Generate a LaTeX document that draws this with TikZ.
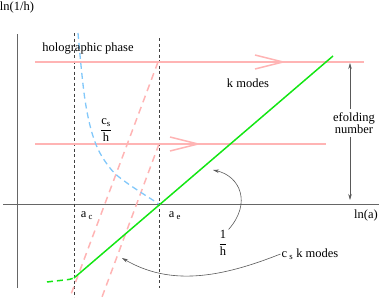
\documentclass[tikz,border=0pt]{standalone}
\usepackage{amsmath}
\usepackage{fontspec}
\setmainfont{Liberation Serif}
\usetikzlibrary{arrows.meta}

\definecolor{pinkline}{RGB}{255,180,180}
\definecolor{skyline}{RGB}{130,200,250}
\definecolor{greenline}{RGB}{20,230,20}

\tikzset{
  lbl/.style={font=\fontsize{12.5}{11}\selectfont, inner sep=1pt},
  axisline/.style={draw=black!60, line width=0.8pt},
  epoch/.style={draw=black!75, line width=0.6pt, dash pattern=on 3pt off 2.5pt},
  mode/.style={draw=pinkline, line width=1.5pt},
  horizon/.style={draw=pinkline, line width=1.5pt, dash pattern=on 7pt off 5pt},
  pointer/.style={draw=black!65, line width=0.6pt, -{Stealth[length=6pt,width=3.5pt]}}
}

\begin{document}
\begin{tikzpicture}[x=1pt,y=1pt]
  \useasboundingbox (0,0) rectangle (382,298);
  % Axes
  \draw[axisline] (17,10) -- (17,264);
  \draw[axisline] (3,94) -- (379,94);
  \node[lbl] (lnh) at (17,291) {ln(1/h)};
  \node[lbl] (lna) at (366,83) {ln(a)};
  % Epochs a_c and a_e
  \draw[epoch] (74,265) -- (74,1);
  \draw[epoch] (159,260) -- (159,10);
  \node[lbl] (ac) at (87,82) {a\,\textsubscript{c}};
  \node[lbl] (ae) at (175,82) {a\,\textsubscript{e}};
  % Modes leaving the horizon
  \draw[horizon] (158,236) -- (70,1);
  \draw[horizon] (159,154) -- (102,1);
  \foreach \y/\xend/\tip in {236/364/283,154/326/198} {
    \draw[mode] (35,\y) -- (\xend,\y);
    \draw[mode] (\tip-28,\y+7) -- (\tip,\y) -- (\tip-28,\y-7);
  }
  % Sound horizon c_s/h
  \draw[draw=skyline, line width=1.3pt, dash pattern=on 6pt off 4pt]
    plot[smooth, tension=0.6] coordinates {(78,265) (85,198) (95,156) (110,130) (127,115) (159,94)};
  % Hubble radius 1/h
  \draw[draw=greenline, line width=1.5pt, dash pattern=on 6pt off 4pt]
    (47,16) .. controls (62,18) and (70,18) .. (74,20);
  \draw[draw=greenline, line width=1.5pt] (74,20) -- (333,242);
  % Labels
  \node[lbl] (holo) at (88,249) {holographic phase};
  \node[lbl] (kmodes) at (248,215) {k modes};
  \node[lbl] (csh) at (106,168) {$\dfrac{\text{c}_\text{s}}{\text{h}}$};
  \node[lbl] (invh) at (223,55) {$\dfrac{\text{1}}{\text{h}}$};
  \node[lbl] (cskmodes) at (310,44) {c\,\textsubscript{s} k modes};
  \node[lbl, align=center, inner sep=3pt] (efold) at (354,175) {efolding\\number};
  % Pointers
  \coordinate (efoldtop) at (350,235);
  \coordinate (efoldbot) at (350,98);
  \coordinate (greentip) at (213,128);
  \coordinate (pinktip) at (122,40);
  \draw[pointer] (efold.north -| efoldtop) -- (efoldtop);
  \draw[pointer] (efold.south -| efoldbot) -- (efoldbot);
  \draw[pointer] (invh.north east) .. controls (252,95) and (240,122) .. (greentip);
  \draw[pointer] (cskmodes.west) .. controls (220,20) and (170,12) .. (pinktip);
\end{tikzpicture}
\end{document}
